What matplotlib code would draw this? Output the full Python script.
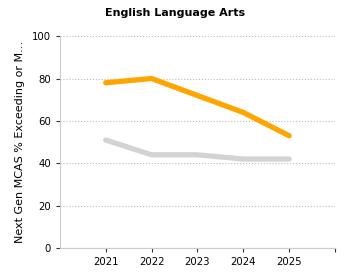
import matplotlib.pyplot as plt

# data
years = [2021, 2022, 2023, 2024, 2025]
school = [78, 80, 72, 64, 53]
state = [51, 44, 44, 42, 42]

fig = plt.figure(figsize=(3.5, 2.8), dpi=100)
ax = fig.add_axes([0.171, 0.114, 0.786, 0.757])

ax.plot(years, state, color='#d3d3d3', lw=3.8, solid_capstyle='round')
ax.plot(years, school, color='#ffa500', lw=3.8, solid_capstyle='round')

ax.set_xlim(2020, 2026)
ax.set_ylim(0, 100)
ax.set_xticks([2021, 2022, 2023, 2024, 2025, 2026])
ax.set_xticklabels(['2021', '2022', '2023', '2024', '2025', ''])
ax.set_yticks([0, 20, 40, 60, 80, 100])
ax.tick_params(labelsize=7.3, length=3, width=0.8, color='#333333')
ax.grid(axis='y', linestyle=':', color='#bbbbbb', lw=0.8)
ax.set_axisbelow(True)

for s in ['top', 'right']:
    ax.spines[s].set_visible(False)
for s in ['left', 'bottom']:
    ax.spines[s].set_color('#cccccc')

fig.text(0.5, 0.955, 'English Language Arts', fontsize=8, fontweight='bold',
         ha='center', va='center')
ax.set_ylabel('Next Gen MCAS % Exceeding or M…', fontsize=8, labelpad=5)

plt.savefig('out.png', dpi=100)
